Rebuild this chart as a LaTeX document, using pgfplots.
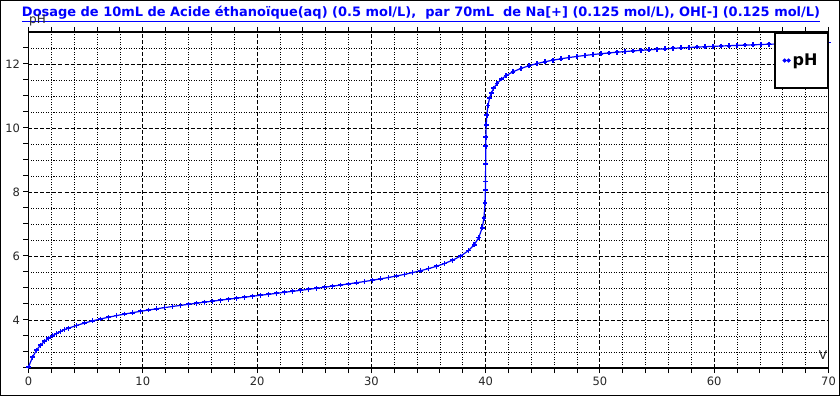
\documentclass[border=0pt]{standalone}
\usepackage{pgfplots}
\pgfplotsset{compat=1.18}
\usepackage{fontspec}
\setmainfont{DejaVu Sans}
\definecolor{tblue}{RGB}{0,0,255}
\begin{document}
\begin{tikzpicture}
\begin{axis}[
  width=800pt, height=336pt, scale only axis,
  xmin=0, xmax=70, ymin=2.5, ymax=13,
  xtick={0,10,...,70},
  minor xtick={2,4,6,8,12,14,16,18,22,24,26,28,32,34,36,38,42,44,46,48,52,54,56,58,62,64,66,68},
  ytick={4,6,8,10,12},
  minor ytick={2.5,3,3.5,4.5,5,5.5,6.5,7,7.5,8.5,9,9.5,10.5,11,11.5,12.5},
  xtick pos=both, ytick pos=left, tick align=outside,
  major tick length=5pt, minor tick length=5pt,
  tick style={black, line width=1pt},
  axis line style={black, line width=1.2pt},
  grid=both,
  major grid style={black, line width=0.9pt, dash pattern=on 4pt off 2pt},
  minor grid style={black, line width=0.8pt, dash pattern=on 1pt off 1.5pt},
  /pgf/number format/assume math mode=true,
  tick label style={font=\fontsize{11.5}{13}\selectfont, text=black!85},
  legend style={at={(1,1)}, anchor=north east, draw=black, line width=2pt, fill=white,
    font=\bfseries\fontsize{16}{18}\selectfont, inner xsep=8pt, inner ysep=19pt},
  legend image code/.code={
    \draw[tblue, line width=1pt] (0pt,0pt) -- (7pt,0pt);
    \fill[tblue] (1.5pt,0pt) circle (1.4pt) (5.5pt,0pt) circle (1.4pt);},
]
\coordinate (O) at (rel axis cs:0,0);
\addplot[tblue, line width=1.2pt, mark=+, mark size=2.4pt, mark options={solid, line width=1.7pt}] coordinates {
(0,2.532)(0.35,2.836)(0.7,3.056)(1.05,3.213)(1.4,3.333)(1.75,3.43)(2.1,3.51)(2.45,3.58)(2.8,3.64)(3.15,3.70)(3.5,3.745)(4.2,3.829)(4.9,3.905)(5.6,3.972)(6.3,4.032)(7.0,4.087)(7.7,4.137)(8.4,4.185)(9.1,4.229)(9.8,4.271)(10.5,4.311)(11.2,4.350)(11.9,4.387)(12.6,4.423)(13.3,4.457)(14.0,4.491)(14.7,4.524)(15.4,4.557)(16.1,4.588)(16.8,4.620)(17.5,4.651)(18.2,4.682)(18.9,4.712)(19.6,4.743)(20.3,4.773)(21.0,4.803)(21.7,4.834)(22.4,4.865)(23.1,4.896)(23.8,4.927)(24.5,4.959)(25.2,4.991)(25.9,5.024)(26.6,5.058)(27.3,5.092)(28.0,5.128)(28.7,5.165)(29.4,5.203)(30.1,5.243)(30.8,5.285)(31.5,5.329)(32.2,5.376)(32.9,5.426)(33.6,5.480)(34.3,5.539)(35.0,5.605)(35.7,5.679)(36.4,5.765)(37.1,5.867)(37.8,5.995)(38.5,6.169)(39.0,6.351)(39.4,6.577)(39.7,6.882)(39.85,7.184)(39.95,7.663)(39.98,8.06)(39.99,8.33)(40.0,8.88)(40.01,9.43)(40.02,9.71)(40.05,10.10)(40.1,10.40)(40.2,10.70)(40.35,10.94)(40.5,11.09)(40.7,11.24)(41.0,11.39)(41.4,11.53)(41.8,11.64)(42.4,11.758)(43.1,11.863)(43.8,11.946)(44.5,12.014)(45.2,12.071)(45.9,12.120)(46.6,12.164)(47.3,12.202)(48.0,12.237)(48.7,12.268)(49.4,12.296)(50.1,12.322)(50.8,12.346)(51.5,12.369)(52.2,12.389)(52.9,12.409)(53.6,12.427)(54.3,12.444)(55.0,12.460)(55.7,12.475)(56.4,12.490)(57.1,12.503)(57.8,12.516)(58.5,12.528)(59.2,12.540)(59.9,12.551)(60.6,12.562)(61.3,12.572)(62.0,12.582)(62.7,12.591)(63.4,12.600)(64.1,12.609)(64.8,12.617)(65.5,12.625)(66.2,12.633)(66.9,12.641)(67.6,12.648)(68.3,12.655)(69.0,12.662)(69.7,12.668)(70.0,12.671)
};
\addlegendentry{pH}
\end{axis}
\useasboundingbox ([shift={(-28.5pt,-28pt)}]O) rectangle ([shift={(811.5pt,368pt)}]O);
\draw[line width=1pt] ([shift={(-28pt,-27.5pt)}]O) rectangle ([shift={(811pt,367.5pt)}]O);
\node[anchor=center, text=tblue, font=\bfseries\fontsize{12.5}{14}\selectfont] at ([shift={(392.5pt,354pt)}]O)
  {\resizebox{798pt}{!}{\underline{Dosage de 10mL de Acide éthanoïque(aq) (0.5 mol/L),\ \ par 70mL\ \ de Na[+] (0.125 mol/L), OH[-] (0.125 mol/L)}}};
\node[anchor=base west, font=\fontsize{12}{14}\selectfont, text=black!85, inner sep=0pt] at ([shift={(0.5pt,344pt)}]O) {pH};
\node[anchor=base, font=\fontsize{12}{14}\selectfont, text=black!85, inner sep=0pt] at ([shift={(794.5pt,8pt)}]O) {V};
\end{tikzpicture}
\end{document}
